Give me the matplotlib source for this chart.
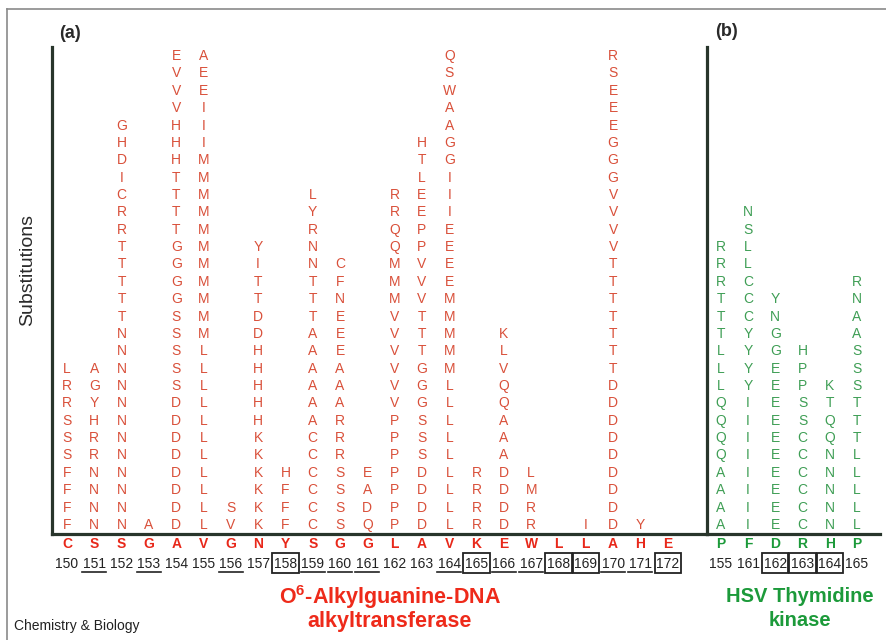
import matplotlib
matplotlib.use("Agg")
import matplotlib.pyplot as plt
from matplotlib.patches import Rectangle
from matplotlib.lines import Line2D

plt.rcParams['font.family'] = ['Liberation Sans', 'DejaVu Sans']
plt.rcParams['mathtext.fontset'] = 'custom'
plt.rcParams['mathtext.bf'] = 'Liberation Sans:bold'
plt.rcParams['mathtext.rm'] = 'Liberation Sans'

# ---- data: panel (a) O6-alkylguanine-DNA alkyltransferase ----
residues_a = list("CSSGAVGNYSGGLAVKEWLLAHE")
numbers_a = list(range(150, 173))
marks_a = ['', 'u', '', 'u', '', '', 'u', '', 'b', 'u', 'u', 'u',
           '', '', 'u', 'b', 'u', 'u', 'b', 'b', 'u', 'u', 'b']
# substitutions, read top -> bottom
subs_a = [
    "LRRSSSFFFF",
    "AGYHRRNNNN",
    "GHDICRRTTTTTNNNNNNNNNNNN",
    "A",
    "EVVVHHHTTTTGGGGSSSSSDDDDDDDD",
    "AEEIIIMMMMMMMMMMMLLLLLLLLLLL",
    "SV",
    "YITTDDHHHHHKKKKKK",
    "HFFF",
    "LYRNNTTTAAAAAACCCCCC",
    "CFNEEEAAARRRSSSS",
    "EADQ",
    "RRQQMMMVVVVVVPPPPPPP",
    "HTLEEPPVVVTTTGGGSSSDDDD",
    "QSWAAGGIIIEEEEMMMMMLLLLLLLLL",
    "RRRR",
    "KLVQQAAADDDD",
    "LMRR",
    "",
    "I",
    "RSEEEGGGVVVVTTTTTTTDDDDDDDDD",
    "Y",
    "",
]

# ---- data: panel (b) HSV thymidine kinase ----
residues_b = list("PFDRHP")
numbers_b = [155, 161, 162, 163, 164, 165]
marks_b = ['', '', 'b', 'b', 'b', '']
subs_b = [
    "RRRTTTLLLQQQQAAAA",
    "NSLLCCCYYYYIIIIIIII",
    "YNGGEEEEEEEEEE",
    "HPPSSCCCCCC",
    "KTQQNNNNN",
    "RNAASSSTTTLLLLL",
]

RED_SUB = '#d9503a'
RED_LAB = '#e8281a'
GRN_SUB = '#3f9e55'
GRN_LAB = '#1c9a3a'
AXC = '#28352b'

W, H = 886, 640
fig = plt.figure(figsize=(W / 100, H / 100), dpi=100)


def px_axes(x0, y0, x1, y1):
    return fig.add_axes([x0 / W, 1 - y1 / H, (x1 - x0) / W, (y1 - y0) / H])


ax_a = px_axes(52, 47, 707, 534)
ax_b = px_axes(707, 47, 880, 534)

ax_a.set_xlim(-0.55, 23.44)
ax_b.set_xlim(-0.51, 5.85)
for ax in (ax_a, ax_b):
    ax.set_ylim(-0.52, 27.52)
    ax.patch.set_visible(False)
    ax.set_xticks([])
    ax.set_yticks([])
    for s in ('top', 'right'):
        ax.spines[s].set_visible(False)
    for s in ('left', 'bottom'):
        ax.spines[s].set_color(AXC)
        ax.spines[s].set_linewidth(2.3)


def draw_panel(ax, subs, residues, numbers, marks, csub, clab):
    for i, col in enumerate(subs):
        for j, ch in enumerate(col[::-1]):
            ax.text(i, j, ch, ha='center', va='center', fontsize=10,
                    color=csub)
        ax.text(i, -1.12, residues[i], ha='center', va='center',
                fontsize=10, fontweight='bold', color=clab, clip_on=False)
        ax.text(i, -2.25, str(numbers[i]), ha='center', va='center',
                fontsize=10, color='#222222', clip_on=False)
        if marks[i] == 'u':
            ax.add_line(Line2D([i - 0.44, i + 0.44], [-2.68, -2.68],
                               color='#222222', lw=1.2, clip_on=False))
        elif marks[i] == 'b':
            ax.add_patch(Rectangle((i - 0.48, -2.74), 0.96, 1.1,
                                   fill=False, ec='#222222', lw=1.3,
                                   clip_on=False))


draw_panel(ax_a, subs_a, residues_a, numbers_a, marks_a, RED_SUB, RED_LAB)
draw_panel(ax_b, subs_b, residues_b, numbers_b, marks_b, GRN_SUB, GRN_LAB)

# outer frame (top and left edges visible)
fig.add_artist(Line2D([7 / W, 1.0], [1 - 9 / H, 1 - 9 / H], color='#8a8a8a', lw=1.2))
fig.add_artist(Line2D([7 / W, 7 / W], [1 - 9 / H, 0.0], color='#8a8a8a', lw=1.2))

fig.text(70 / W, 1 - 33 / H, '(a)', ha='center', va='center', fontsize=13,
         fontweight='bold', color='#2a2a2a')
fig.text(726 / W, 1 - 32 / H, '(b)', ha='center', va='center', fontsize=13,
         fontweight='bold', color='#2a2a2a')
fig.text(28 / W, 1 - 270 / H, 'Substitutions', rotation=90, ha='center',
         va='center', fontsize=14, color='#2a2a2a')

fig.text(390 / W, 1 - 597 / H, r'O$^{\mathbf{6}}$-Alkylguanine-DNA', ha='center',
         va='center', fontsize=15.5, fontweight='bold', color='#ee2a1a')
fig.text(390 / W, 1 - 622 / H, 'alkyltransferase', ha='center', va='center',
         fontsize=15.5, fontweight='bold', color='#ee2a1a')
fig.text(800 / W, 1 - 597 / H, 'HSV Thymidine', ha='center', va='center',
         fontsize=14.5, fontweight='bold', color=GRN_LAB)
fig.text(800 / W, 1 - 620 / H, 'kinase', ha='center', va='center',
         fontsize=14.5, fontweight='bold', color=GRN_LAB)
fig.text(14 / W, 1 - 626 / H, 'Chemistry & Biology', ha='left', va='center',
         fontsize=10, color='#222222')

fig.savefig('out.png', dpi=100)
